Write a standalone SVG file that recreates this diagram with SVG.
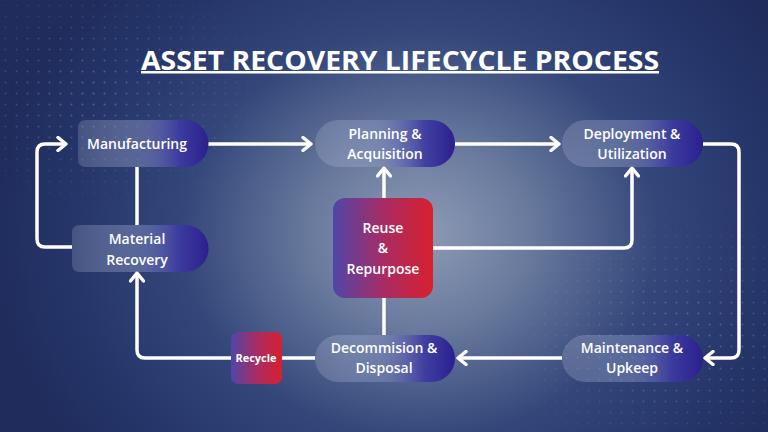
<svg xmlns="http://www.w3.org/2000/svg" width="768" height="432" viewBox="0 0 768 432">
  <defs>
    <radialGradient id="bg" gradientUnits="userSpaceOnUse" cx="420" cy="235" r="430" gradientTransform="translate(420 235) scale(1 0.85) translate(-420 -235)">
      <stop offset="0" stop-color="#8e9bb5"/>
      <stop offset="0.25" stop-color="#6a7b9e"/>
      <stop offset="0.55" stop-color="#34477a"/>
      <stop offset="0.8" stop-color="#26366a"/>
      <stop offset="1" stop-color="#1f2c5c"/>
    </radialGradient>
    <pattern id="dots" width="11" height="11" patternUnits="userSpaceOnUse">
      <circle cx="5.5" cy="5.5" r="1" fill="#b8c6ea"/>
    </pattern>
    <radialGradient id="fadeTL" cx="0.5" cy="0.5" r="0.5">
      <stop offset="0" stop-color="#fff" stop-opacity="0.35"/>
      <stop offset="1" stop-color="#fff" stop-opacity="0"/>
    </radialGradient>
    <mask id="dotmask">
      <ellipse cx="90" cy="90" rx="200" ry="130" fill="url(#fadeTL)"/>
      <ellipse cx="680" cy="340" rx="200" ry="140" fill="url(#fadeTL)"/>
    </mask>
    <linearGradient id="pill" x1="0" y1="0" x2="1" y2="0">
      <stop offset="0" stop-color="#c4cde2" stop-opacity="0.2"/>
      <stop offset="0.45" stop-color="#8a97c4" stop-opacity="0.45"/>
      <stop offset="0.78" stop-color="#3d3aa2" stop-opacity="0.9"/>
      <stop offset="1" stop-color="#2a1f8e"/>
    </linearGradient>
    <linearGradient id="red" x1="0" y1="0" x2="1" y2="0">
      <stop offset="0" stop-color="#4f46a8"/>
      <stop offset="0.5" stop-color="#a82c64"/>
      <stop offset="1" stop-color="#d8202e"/>
    </linearGradient>
    <marker id="arr" markerUnits="userSpaceOnUse" viewBox="0 0 12 16" markerWidth="12" markerHeight="16" refX="10" refY="8" orient="auto">
      <path d="M2,1.5 L10,8 L2,14.5" fill="none" stroke="#fff" stroke-width="3.4" stroke-linecap="round" stroke-linejoin="round"/>
    </marker>
  </defs>
  <style>
    .lbl { font-family: "Open Sans", "Liberation Sans", sans-serif; font-weight: 600; font-size: 14px; fill: #fff; text-anchor: middle; }
    .sm { font-size: 11px; font-weight: 700; }
    .con { fill: none; stroke: #fff; stroke-width: 3.5; stroke-linecap: butt; stroke-linejoin: round; }
    .title { font-family: "Open Sans", "Liberation Sans", sans-serif; font-weight: 700; font-size: 26px; fill: #fff; text-anchor: middle; }
  </style>

  <rect width="768" height="432" fill="url(#bg)"/>
  <rect width="768" height="432" fill="url(#dots)" mask="url(#dotmask)"/>

  <g id="title">
    <text class="title" x="400" y="70" textLength="518" lengthAdjust="spacingAndGlyphs">ASSET RECOVERY LIFECYCLE PROCESS</text>
    <rect x="141" y="71" width="518" height="2.5" fill="#fff"/>
  </g>

  <g id="connectors">
    <path class="con" d="M208,144 H311" marker-end="url(#arr)"/>
    <path class="con" d="M455,144 H559" marker-end="url(#arr)"/>
    <path class="con" d="M703,144 H731 Q739,144 739,152 V350 Q739,358 731,358 H705" marker-end="url(#arr)"/>
    <path class="con" d="M562,358 H458" marker-end="url(#arr)"/>
    <path class="con" d="M315,358 H282"/>
    <path class="con" d="M231,358 H145 Q137,358 137,350 V273" marker-end="url(#arr)"/>
    <path class="con" d="M137,167 V225"/>
    <path class="con" d="M72,247 H45 Q37,247 37,239 V152 Q37,144 45,144 H66" marker-end="url(#arr)"/>
    <path class="con" d="M384,335 V298"/>
    <path class="con" d="M384,198 V168" marker-end="url(#arr)"/>
    <path class="con" d="M433,248 H624 Q632,248 632,240 V168" marker-end="url(#arr)"/>
  </g>

  <g id="manufacturing">
    <path d="M86,120 H185 A23.5,23.5 0 0 1 185,167 H86 Q78,167 78,159 V128 Q78,120 86,120 Z" fill="url(#pill)"/>
    <text class="lbl" x="137" y="149">Manufacturing</text>
  </g>
  <g id="material-recovery">
    <path d="M80,225 H185 A23.5,23.5 0 0 1 185,272 H80 Q72,272 72,264 V233 Q72,225 80,225 Z" fill="url(#pill)"/>
    <text class="lbl" x="137" y="244">Material</text>
    <text class="lbl" x="137" y="265">Recovery</text>
  </g>
  <g id="planning">
    <rect x="315" y="120" width="140" height="47" rx="23.5" fill="url(#pill)"/>
    <text class="lbl" x="385" y="139">Planning &amp;</text>
    <text class="lbl" x="385" y="159">Acquisition</text>
  </g>
  <g id="deployment">
    <rect x="562" y="120" width="141" height="47" rx="23.5" fill="url(#pill)"/>
    <text class="lbl" x="632" y="139">Deployment &amp;</text>
    <text class="lbl" x="632" y="159">Utilization</text>
  </g>
  <g id="reuse">
    <rect x="333" y="198" width="100" height="100" rx="12" fill="url(#red)"/>
    <text class="lbl" x="383" y="233">Reuse</text>
    <text class="lbl" x="383" y="253">&amp;</text>
    <text class="lbl" x="383" y="274">Repurpose</text>
  </g>
  <g id="decommission">
    <rect x="315" y="335" width="140" height="47" rx="23.5" fill="url(#pill)"/>
    <text class="lbl" x="384" y="353">Decommision &amp;</text>
    <text class="lbl" x="384" y="373">Disposal</text>
  </g>
  <g id="maintenance">
    <rect x="562" y="335" width="141" height="47" rx="23.5" fill="url(#pill)"/>
    <text class="lbl" x="632" y="353">Maintenance &amp;</text>
    <text class="lbl" x="632" y="373">Upkeep</text>
  </g>
  <g id="recycle">
    <rect x="231" y="332" width="51" height="52" rx="7" fill="url(#red)"/>
    <text class="lbl sm" x="256" y="362">Recycle</text>
  </g>
</svg>
